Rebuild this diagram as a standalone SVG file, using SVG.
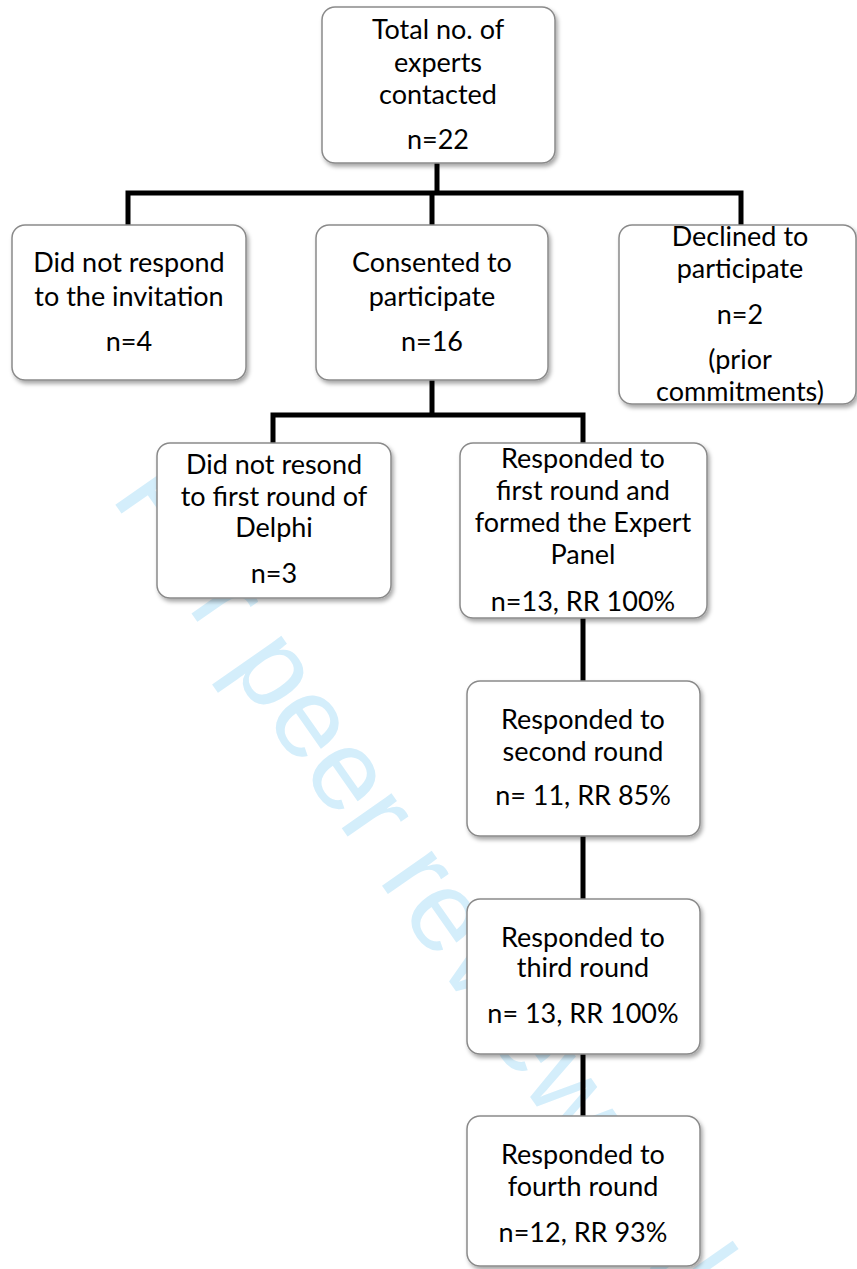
<svg xmlns="http://www.w3.org/2000/svg" width="857" height="1269" viewBox="0 0 857 1269">
<defs>
<filter id="sh" x="-10%" y="-10%" width="130%" height="130%">
<feDropShadow dx="2" dy="3" stdDeviation="2" flood-color="#000" flood-opacity="0.35"/>
</filter>
<style>
.box{fill:#fff;stroke:#8a8a8a;stroke-width:1.5;filter:url(#sh)}
.t{font-family:Lato,"Liberation Sans",sans-serif;font-size:27px;fill:#000;text-anchor:middle}
.c{stroke:#000;stroke-width:5;fill:none;stroke-linecap:square}
.wm{font-family:"Liberation Sans",Arial,sans-serif;font-size:115px;fill:#d4eefb}
</style>
</defs>
<rect width="857" height="1269" fill="#fff"/>
<text class="wm" transform="translate(110,497) rotate(55)">For peer review only</text>
<g id="connectors">
<path class="c" d="M437,163 V193 M128,193 H741 M128,193 V225 M432,193 V225 M741,193 V225"/>
<path class="c" d="M432,380 V415 M273,415 H583 M273,415 V443 M583,415 V443"/>
<path class="c" d="M583,618 V681 M583,836 V899 M583,1054 V1116"/>
</g>
<g id="n_total">
<rect class="box" x="322" y="7" width="233" height="156" rx="13"/>
<text class="t" x="438" y="39">Total no. of</text>
<text class="t" x="438" y="72">experts</text>
<text class="t" x="438" y="104">contacted</text>
<text class="t" x="438" y="149">n=22</text>
</g>
<g id="n_noresp">
<rect class="box" x="12" y="225" width="234" height="155" rx="13"/>
<text class="t" x="129" y="272">Did not respond</text>
<text class="t" x="129" y="306">to the invitation</text>
<text class="t" x="129" y="351">n=4</text>
</g>
<g id="n_consent">
<rect class="box" x="316" y="225" width="232" height="155" rx="13"/>
<text class="t" x="432" y="272">Consented to</text>
<text class="t" x="432" y="306">participate</text>
<text class="t" x="432" y="351">n=16</text>
</g>
<g id="n_declined">
<rect class="box" x="619" y="225" width="237" height="179" rx="13"/>
<text class="t" x="740" y="246">Declined to</text>
<text class="t" x="740" y="278">participate</text>
<text class="t" x="740" y="324">n=2</text>
<text class="t" x="740" y="369">(prior</text>
<text class="t" x="740" y="401">commitments)</text>
</g>
<g id="n_noround1">
<rect class="box" x="157" y="443" width="234" height="155" rx="13"/>
<text class="t" x="274" y="474">Did not resond</text>
<text class="t" x="274" y="506">to first round of</text>
<text class="t" x="274" y="537">Delphi</text>
<text class="t" x="274" y="583">n=3</text>
</g>
<g id="n_round1">
<rect class="box" x="460" y="443" width="247" height="175" rx="13"/>
<text class="t" x="583" y="468">Responded to</text>
<text class="t" x="583" y="500">first round and</text>
<text class="t" x="583" y="532">formed the Expert</text>
<text class="t" x="583" y="564">Panel</text>
<text class="t" x="583" y="611">n=13, RR 100%</text>
</g>
<g id="n_round2">
<rect class="box" x="467" y="681" width="233" height="155" rx="13"/>
<text class="t" x="583" y="729">Responded to</text>
<text class="t" x="583" y="761">second round</text>
<text class="t" x="583" y="805">n= 11, RR 85%</text>
</g>
<g id="n_round3">
<rect class="box" x="467" y="899" width="233" height="155" rx="13"/>
<text class="t" x="583" y="947">Responded to</text>
<text class="t" x="583" y="977">third round</text>
<text class="t" x="583" y="1023">n= 13, RR 100%</text>
</g>
<g id="n_round4">
<rect class="box" x="467" y="1116" width="233" height="150" rx="13"/>
<text class="t" x="583" y="1164">Responded to</text>
<text class="t" x="583" y="1196">fourth round</text>
<text class="t" x="583" y="1242">n=12, RR 93%</text>
</g>
</svg>
